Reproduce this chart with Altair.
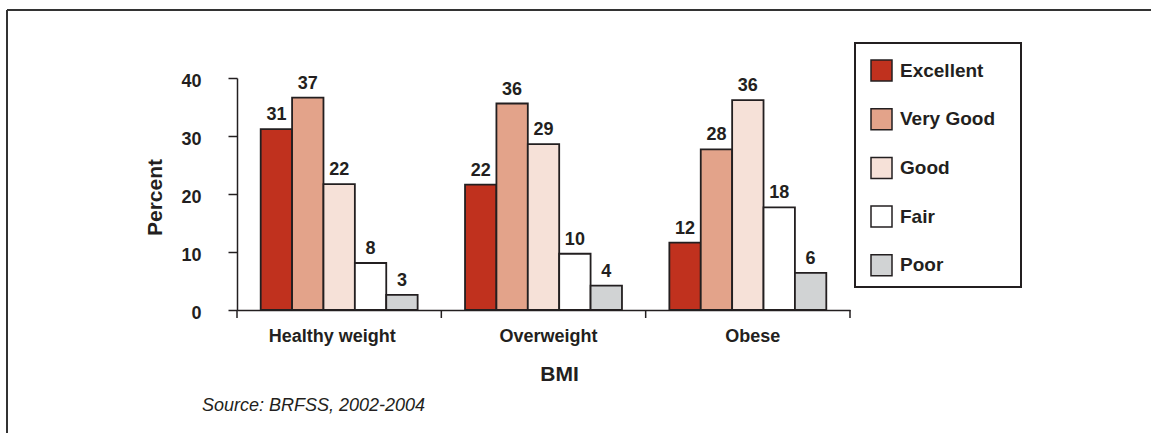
import altair as alt
import pandas as pd

# Self-rated health by BMI group (percent of adults)
bmi_groups = ["Healthy weight", "Overweight", "Obese"]
health_levels = ["Excellent", "Very Good", "Good", "Fair", "Poor"]
level_colors = ["#C0311E", "#E3A38A", "#F6E1D8", "#FFFFFF", "#D1D3D4"]
healthy_pct = [31.2, 36.6, 21.7, 8.1, 2.6]
overweight_pct = [21.6, 35.6, 28.6, 9.7, 4.2]
obese_pct = [11.6, 27.7, 36.2, 17.7, 6.4]
y_ticks = [0, 10, 20, 30, 40]
source_note = "Source: BRFSS, 2002-2004"

FONT = "Liberation Sans"
INK = "#231F20"
W, H = 613, 232

rows = []
for grp, vals in zip(bmi_groups, [healthy_pct, overweight_pct, obese_pct]):
    for lvl, v in zip(health_levels, vals):
        rows.append({"bmi": grp, "level": lvl, "pct": v})
df = pd.DataFrame(rows)

x_axis = alt.Axis(
    title="BMI",
    ticks=False,
    tickSize=0,
    labelAngle=0,
    labelPadding=17,
    labelOffset={
        "condition": {"test": "datum.value === 'Healthy weight'", "value": -7},
        "value": 5,
    },
    labelFont=FONT,
    labelFontSize=18,
    labelFontWeight="bold",
    labelColor=INK,
    titleFont=FONT,
    titleFontSize=21,
    titleFontWeight="bold",
    titleColor=INK,
    titleX=322,
    titleY=70,
    titleBaseline="alphabetic",
    domainColor=INK,
    domainWidth=1.5,
)
x_scale = alt.Scale(paddingInner=0, paddingOuter=0)
x_enc = alt.X("bmi:N", sort=bmi_groups, scale=x_scale, axis=x_axis)
xoff_enc = alt.XOffset(
    "level:N",
    sort=health_levels,
    scale=alt.Scale(paddingOuter=0.755, paddingInner=0),
)
y_enc = alt.Y(
    "pct:Q",
    scale=alt.Scale(domain=[0, 40], nice=False),
    axis=alt.Axis(
        title="Percent",
        values=y_ticks,
        grid=False,
        tickSize=9,
        tickColor=INK,
        tickWidth=1.5,
        labelPadding=27,
        labelOffset=3,
        labelFont=FONT,
        labelFontSize=18,
        labelFontWeight="bold",
        labelColor=INK,
        titleFont=FONT,
        titleFontSize=21,
        titleFontWeight="bold",
        titleColor=INK,
        titleX=-76,
        titleY=119,
        titleAngle=-90,
        titleBaseline="alphabetic",
        titleAlign="center",
        domainColor=INK,
        domainWidth=1.5,
    ),
)

base = alt.Chart(df).encode(x=x_enc, xOffset=xoff_enc, y=y_enc)

bars = base.mark_bar(stroke=INK, strokeWidth=1.8).encode(
    color=alt.Color(
        "level:N",
        sort=health_levels,
        scale=alt.Scale(domain=health_levels, range=level_colors),
        legend=alt.Legend(
            title=None,
            orient="none",
            legendX=633,
            legendY=-19,
            padding=0,
            rowPadding=21.7,
            symbolType="square",
            symbolSize=441,
            symbolStrokeColor=INK,
            symbolStrokeWidth=1.5,
            symbolOpacity=1,
            labelFont=FONT,
            labelFontSize=19,
            labelFontWeight="bold",
            labelColor=INK,
            labelOffset=7,
        ),
    )
)

value_labels = base.mark_text(
    baseline="alphabetic",
    dy=-9,
    font=FONT,
    fontSize=18,
    fontWeight="bold",
    color=INK,
).encode(text=alt.Text("pct:Q", format=".0f"))

# Category boundary ticks on the x axis
bound_df = pd.DataFrame({"bmi": bmi_groups})
bound_ticks = alt.Chart(bound_df).mark_rule(color=INK, strokeWidth=1.5).encode(
    x=alt.X("bmi:N", sort=bmi_groups, scale=x_scale, axis=x_axis, bandPosition=0),
    y=alt.value(H),
    y2=alt.value(H + 8),
)
one = pd.DataFrame({"k": [0]})
end_tick = alt.Chart(one).mark_rule(color=INK, strokeWidth=1.5).encode(
    x=alt.value(W), y=alt.value(H), y2=alt.value(H + 8)
)

# Legend frame
legend_box = alt.Chart(one).mark_rect(
    fill="transparent", stroke=INK, strokeWidth=2
).encode(
    x=alt.value(618), x2=alt.value(784), y=alt.value(-35), y2=alt.value(209)
)

# Outer frame: top and left edges
frame_top = alt.Chart(one).mark_rule(color="#333333", strokeWidth=2).encode(
    x=alt.value(-230), x2=alt.value(W + 320), y=alt.value(-68)
)
frame_left = alt.Chart(one).mark_rule(color="#333333", strokeWidth=2).encode(
    x=alt.value(-230), y=alt.value(-68), y2=alt.value(H + 130)
)

source = alt.Chart(one).mark_text(
    align="left",
    baseline="alphabetic",
    font=FONT,
    fontSize=18,
    fontStyle="italic",
    color=INK,
).encode(x=alt.value(-35), y=alt.value(333), text=alt.value(source_note))

chart = (
    alt.layer(
        bars,
        value_labels,
        bound_ticks,
        end_tick,
        legend_box,
        source,
        frame_top,
        frame_left,
    )
    .properties(
        width=W,
        height=H,
        autosize=alt.AutoSizeParams(type="none"),
        padding={"left": 237, "top": 78, "right": 301, "bottom": 123},
        background="white",
    )
    .configure_view(stroke=None)
)

chart.save("out.html", embed_options={"renderer": "svg", "actions": False})
